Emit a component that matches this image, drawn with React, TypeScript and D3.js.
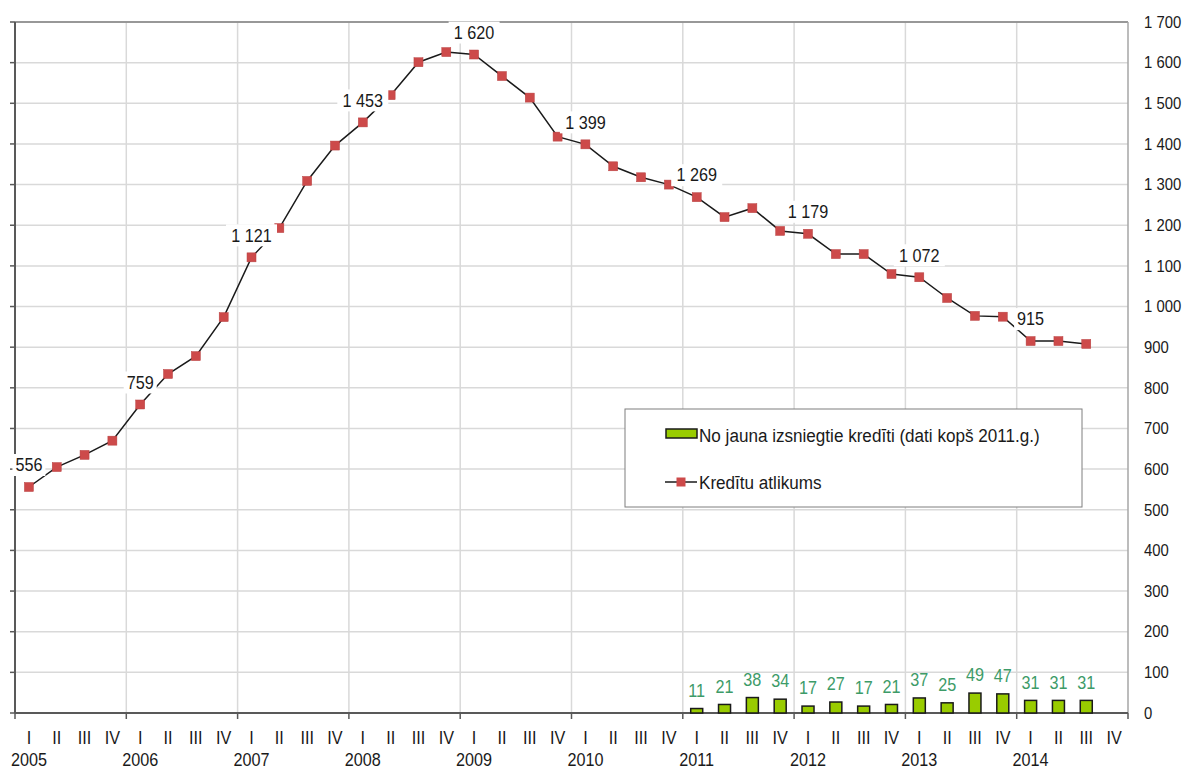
import React from 'react';
import * as d3 from 'd3';

// quarters 2005 I .. 2014 IV
const years = [2005, 2006, 2007, 2008, 2009, 2010, 2011, 2012, 2013, 2014];
const quarterNames = ['I', 'II', 'III', 'IV'];

// Kredītu atlikums, 2005 I .. 2014 III
const creditBalance = [
  556, 605, 635, 670,
  759, 834, 878, 974,
  1121, 1193, 1309, 1396,
  1453, 1520, 1601, 1626,
  1620, 1567, 1514, 1418,
  1399, 1345, 1318, 1300,
  1269, 1220, 1242, 1186,
  1179, 1129, 1129, 1080,
  1072, 1021, 977, 975,
  915, 915, 908,
];

// No jauna izsniegtie kredīti, 2011 I .. 2014 III
const newLoansStart = 24;
const newLoans = [11, 21, 38, 34, 17, 27, 17, 21, 37, 25, 49, 47, 31, 31, 31];

const yTicks = d3.range(0, 1701, 100);

const W = 1187;
const H = 772;
const left = 15;
const right = 1128;
const top = 22;
const bottom = 713;

const fmt = d3
  .formatLocale({ decimal: ',', thousands: ' ', grouping: [3], currency: ['', ''] })
  .format(',d');

const font = '"Liberation Sans", Arial, sans-serif';

// text slightly condensed horizontally, like the original
function T(props: { x: number; y: number; size: number; anchor?: string; fill?: string; children: any }) {
  const { x, y, size, anchor = 'start', fill = '#1a1a1a', children } = props;
  return (
    <text
      transform={`translate(${x},${y}) scale(0.9,1)`}
      dy="0.35em"
      textAnchor={anchor}
      fontSize={size}
      fill={fill}
    >
      {children}
    </text>
  );
}

export default function App() {
  const keys: string[] = [];
  years.forEach((yr) => quarterNames.forEach((q) => keys.push(`${yr}-${q}`)));

  const x = d3.scaleBand<string>().domain(keys).range([left, right]).paddingInner(0).paddingOuter(0);
  const y = d3.scaleLinear().domain([0, 1700]).range([bottom, top]);
  const cx = (i: number) => (x(keys[i]) as number) + x.bandwidth() / 2;

  const line = d3
    .line<number>()
    .x((d, i) => cx(i))
    .y((d) => y(d));

  const yearEdges = years.map((yr) => x(`${yr}-I`) as number).concat([right]);
  const barW = 12;

  return (
    <svg
      width={W}
      height={H}
      style={{ position: 'absolute', left: 0, top: 0, background: '#fff', fontFamily: font }}
    >
      {/* grid */}
      {yTicks.map((t) => (
        <line key={'gy' + t} x1={left} x2={right} y1={y(t)} y2={y(t)} stroke="#d9d9d9" strokeWidth={1.5} />
      ))}
      {yearEdges.slice(1, -1).map((ex, i) => (
        <line key={'gx' + i} x1={ex} x2={ex} y1={top} y2={bottom} stroke="#d9d9d9" strokeWidth={1.5} />
      ))}

      {/* frame */}
      <line x1={left} x2={right} y1={top} y2={top} stroke="#7f7f7f" strokeWidth={1.5} />
      <line x1={right} x2={right} y1={top} y2={bottom} stroke="#a6a6a6" strokeWidth={1.5} />
      <line x1={left} x2={left} y1={top} y2={bottom} stroke="#595959" strokeWidth={2} />
      {yTicks.map((t) => (
        <line key={'ty' + t} x1={left - 5} x2={left} y1={y(t)} y2={y(t)} stroke="#595959" strokeWidth={1.5} />
      ))}
      <line x1={left} x2={right} y1={bottom} y2={bottom} stroke="#595959" strokeWidth={2} />
      {yearEdges.map((ex, i) => (
        <line key={'tx' + i} x1={ex} x2={ex} y1={bottom} y2={bottom + 6} stroke="#595959" strokeWidth={1.5} />
      ))}

      {/* right axis labels */}
      {yTicks.map((t) => (
        <T key={'ly' + t} x={1144} y={y(t)} size={16.5}>
          {fmt(t)}
        </T>
      ))}

      {/* x labels */}
      {keys.map((k, i) => (
        <T key={'lq' + k} x={cx(i)} y={738} size={18} anchor="middle">
          {quarterNames[i % 4]}
        </T>
      ))}
      {years.map((yr, i) => (
        <T key={'lyr' + yr} x={cx(i * 4)} y={760} size={18} anchor="middle">
          {yr}
        </T>
      ))}

      {/* bars */}
      {newLoans.map((v, i) => {
        const bx = cx(newLoansStart + i);
        return (
          <g key={'b' + i}>
            <rect
              x={bx - barW / 2}
              y={y(v)}
              width={barW}
              height={bottom - y(v)}
              fill="#99cc00"
              stroke="#1a1a1a"
              strokeWidth={1.5}
            />
            <T x={bx} y={y(v) - 18} size={18} anchor="middle" fill="#3d9b68">
              {v}
            </T>
          </g>
        );
      })}

      {/* line */}
      <path d={line(creditBalance) || ''} fill="none" stroke="#1a1a1a" strokeWidth={1.5} />
      {creditBalance.map((v, i) => (
        <rect key={'m' + i} x={cx(i) - 4.5} y={y(v) - 4.5} width={9} height={9} fill="#cd4a4a" stroke="#b84040" strokeWidth={0.5} />
      ))}

      {/* data labels at each first quarter */}
      {creditBalance.map((v, i) => {
        if (i % 4 !== 0) return null;
        const label = fmt(v);
        const w = label.length * 9 + 6;
        return (
          <g key={'dl' + i}>
            <rect x={cx(i) - w / 2} y={y(v) - 33} width={w} height={22} fill="#fff" />
            <T x={cx(i)} y={y(v) - 22} size={18} anchor="middle">
              {label}
            </T>
          </g>
        );
      })}

      {/* legend */}
      <rect x={625} y={409} width={457} height={98} fill="#fff" stroke="#7f7f7f" strokeWidth={1} />
      <rect x={666} y={429} width={31} height={9} fill="#99cc00" stroke="#1a1a1a" strokeWidth={1.5} />
      <T x={699} y={435} size={19}>
        No jauna izsniegtie kredīti (dati kopš 2011.g.)
      </T>
      <line x1={665} x2={697} y1={482} y2={482} stroke="#1a1a1a" strokeWidth={1.5} />
      <rect x={676.5} y={477.5} width={9} height={9} fill="#cd4a4a" />
      <T x={699} y={482} size={19}>
        Kredītu atlikums
      </T>
    </svg>
  );
}
